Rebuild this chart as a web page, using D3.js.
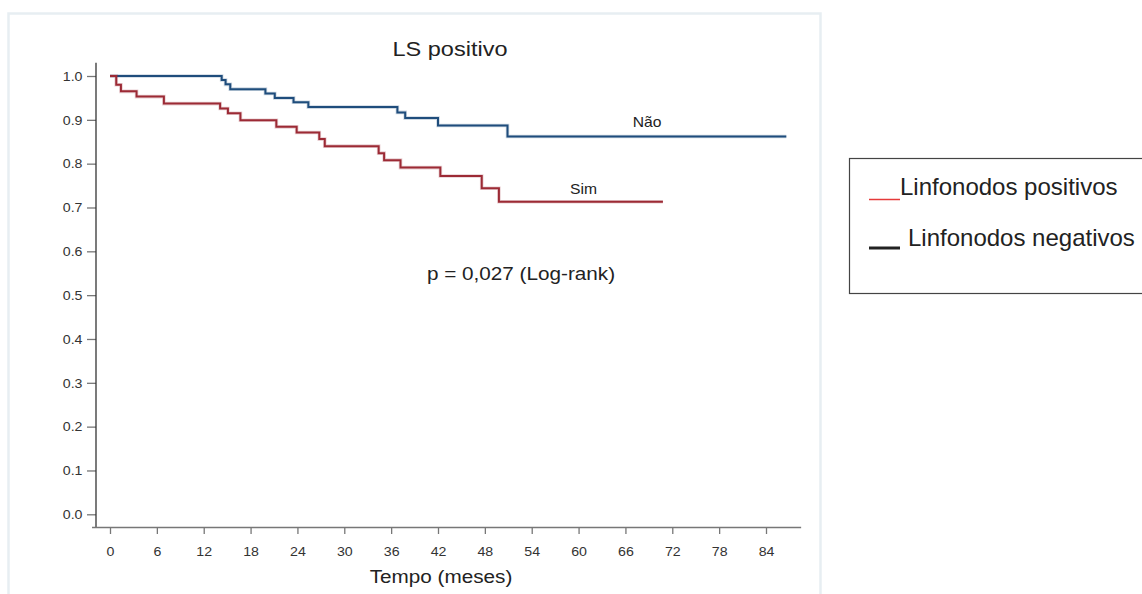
<!DOCTYPE html>
<html>
<head>
<meta charset="utf-8">
<script src="https://cdn.jsdelivr.net/npm/d3@7"></script>
<style>
  html, body { margin: 0; padding: 0; background: #fff; }
  svg { display: block; font-family: "Liberation Sans", Arial, sans-serif; }
</style>
</head>
<body>
<svg id="chart" width="1142" height="594"></svg>
<script>
// Kaplan-Meier steps: time of each drop (months) and survival after it
const naoTime = [0, 14.3, 14.8, 15.4, 19.9, 21.1, 23.5, 25.4, 36.8, 37.8, 42.0, 50.9];
const naoSurv = [1.000, 0.991, 0.981, 0.970, 0.960, 0.950, 0.940, 0.929, 0.917, 0.904, 0.887, 0.862];
const naoEnd = 86.6;

const simTime = [0, 0.8, 1.4, 3.4, 6.9, 14.1, 15.1, 16.7, 21.3, 23.9, 26.8, 27.5, 34.4, 35.1, 37.2, 42.3, 47.6, 49.8];
const simSurv = [1.000, 0.980, 0.965, 0.953, 0.937, 0.926, 0.915, 0.899, 0.884, 0.871, 0.856, 0.840, 0.824, 0.808, 0.791, 0.772, 0.744, 0.713];
const simEnd = 70.8;

const xTicks = [0, 6, 12, 18, 24, 30, 36, 42, 48, 54, 60, 66, 72, 78, 84];
const yTicks = [0, 0.1, 0.2, 0.3, 0.4, 0.5, 0.6, 0.7, 0.8, 0.9, 1.0];

const legendLabels = ["Linfonodos positivos", "Linfonodos negativos"];

const svg = d3.select("#chart");
const SX = 1.12;   // horizontal stretch of the chart lettering
const TSX = 1.05;  // stretch for tick labels

const x = d3.scaleLinear().domain([0, 84]).range([110, 766]);
const y = d3.scaleLinear().domain([0, 1]).range([514.3, 76]);

// outer panel frame
svg.append("rect")
  .attr("x", 8.5).attr("y", 13.5)
  .attr("width", 812).attr("height", 620)
  .attr("fill", "none").attr("stroke", "#e7eef2").attr("stroke-width", 2.5);

function label(txt, px, py, size, anchor, color) {
  return svg.append("text")
    .attr("transform", `translate(${px},${py}) scale(${SX},1)`)
    .attr("text-anchor", anchor)
    .attr("font-size", size)
    .attr("fill", color || "#222")
    .text(txt);
}

// y axis
const yAxis = svg.append("g").attr("transform", "translate(96,0)")
  .call(d3.axisLeft(y).tickValues(yTicks).tickFormat(d3.format(".1f")).tickSize(9).tickSizeOuter(0).tickPadding(4));
yAxis.select(".domain").remove();
yAxis.selectAll(".tick line").attr("stroke", "#777").attr("stroke-width", 1.3);
yAxis.selectAll(".tick text")
  .attr("font-size", 13.5).attr("fill", "#333")
  .attr("font-family", "Liberation Sans, Arial, sans-serif")
  .attr("x", -13.5 / TSX).attr("transform", `scale(${TSX},1)`);
svg.append("line").attr("x1", 96).attr("x2", 96).attr("y1", y(1.03)).attr("y2", 528)
  .attr("stroke", "#333").attr("stroke-width", 1.3);

// x axis
const xAxis = svg.append("g").attr("transform", "translate(0,527)")
  .call(d3.axisBottom(x).tickValues(xTicks).tickSize(7).tickSizeOuter(0).tickPadding(12));
xAxis.select(".domain").remove();
xAxis.selectAll(".tick line").attr("stroke", "#777").attr("stroke-width", 1.3);
xAxis.selectAll(".tick text")
  .attr("font-size", 13.5).attr("fill", "#333")
  .attr("font-family", "Liberation Sans, Arial, sans-serif")
  .attr("transform", `scale(${TSX},1)`);
svg.append("line").attr("x1", x(-2.3)).attr("x2", x(88.5)).attr("y1", 527.5).attr("y2", 527.5)
  .attr("stroke", "#777").attr("stroke-width", 1.3);

// titles and annotations
label("LS positivo", 450, 56, 21, "middle");
label("Tempo (meses)", 441, 583, 18.5, "middle");
label("p = 0,027 (Log-rank)", 521, 280, 18.5, "middle");
label("Não", 647, 127, 14, "middle");
label("Sim", 583.5, 194, 14, "middle");

// survival curves
const line = d3.line().x(d => x(d[0])).y(d => y(d[1])).curve(d3.curveStepAfter);
function steps(times, surv, end) {
  const pts = times.map((t, i) => [t, surv[i]]);
  pts.push([end, surv[surv.length - 1]]);
  return pts;
}
const curves = [
  { pts: steps(naoTime, naoSurv, naoEnd), color: "#1f4d7c" },
  { pts: steps(simTime, simSurv, simEnd), color: "#9c2a35" }
];
curves.forEach(c => {
  svg.append("path").attr("d", line(c.pts)).attr("fill", "none")
    .attr("stroke", c.color).attr("stroke-width", 3.6).attr("stroke-opacity", 0.22);
  svg.append("path").attr("d", line(c.pts)).attr("fill", "none")
    .attr("stroke", c.color).attr("stroke-width", 2);
});

// legend box
const lg = svg.append("g");
lg.append("rect").attr("x", 849.5).attr("y", 158.5).attr("width", 320).attr("height", 135)
  .attr("fill", "#fff").attr("stroke", "#444").attr("stroke-width", 1.2);
lg.append("line").attr("x1", 869).attr("x2", 900).attr("y1", 199.5).attr("y2", 199.5)
  .attr("stroke", "#e53a3a").attr("stroke-width", 1.5);
lg.append("line").attr("x1", 869).attr("x2", 900).attr("y1", 248).attr("y2", 248)
  .attr("stroke", "#222").attr("stroke-width", 3);
lg.append("text").attr("x", 900).attr("y", 195).attr("font-size", 24).attr("fill", "#222").text(legendLabels[0]);
lg.append("text").attr("x", 908).attr("y", 246).attr("font-size", 24).attr("fill", "#222").text(legendLabels[1]);
</script>
</body>
</html>
